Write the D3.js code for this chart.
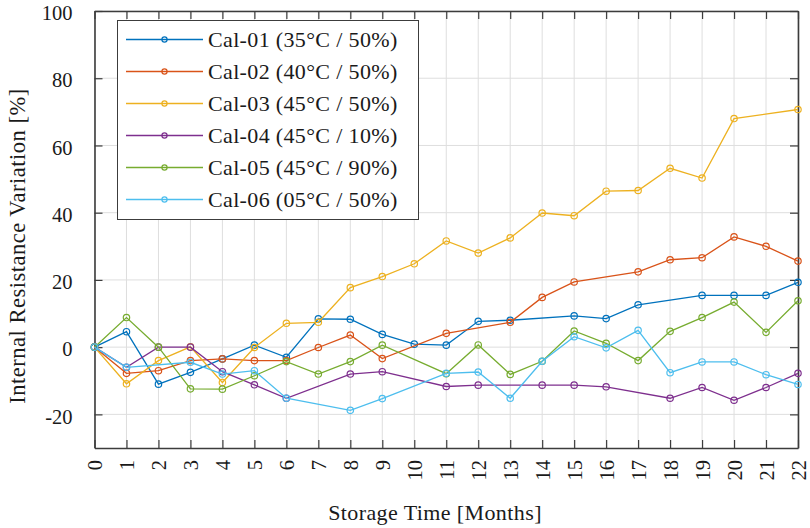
<!DOCTYPE html>
<html>
<head>
<meta charset="utf-8">
<script src="https://cdn.jsdelivr.net/npm/d3@7"></script>
<style>
  body { margin: 0; background: #fff; }
  svg { display: block; }
  text { font-family: "Liberation Serif", "Times New Roman", serif; fill: #1a1a1a; }
</style>
</head>
<body>
<svg id="chart" width="810" height="528"></svg>
<script>
// Storage time axis (months) and value axis ticks
const months = [0, 1, 2, 3, 4, 5, 6, 7, 8, 9, 10, 11, 12, 13, 14, 15, 16, 17, 18, 19, 20, 21, 22];
const yTicks = [-20, 0, 20, 40, 60, 80, 100];

// Internal resistance variation [%] per month; null = no measurement that month
const cal01 = [0, 4.6, -11.0, -7.5, -3.5, 0.6, -3.0, 8.4, 8.3, 3.8, 0.9, 0.6, 7.7, 8.0, null, 9.3, 8.5, 12.6, null, 15.4, 15.4, 15.4, 19.3];
const cal02 = [0, -7.8, -7.0, -4.0, -3.5, -4.0, -4.0, -0.1, 3.6, -3.4, null, 4.1, null, 7.4, 14.8, 19.4, null, 22.4, 26.0, 26.6, 32.8, 30.0, 25.6];
const cal03 = [0, -10.9, -4.0, 0.1, -10.5, -0.1, 7.1, 7.4, 17.7, 21.0, 24.8, 31.6, 28.0, 32.5, 39.9, 39.1, 46.4, 46.6, 53.2, 50.3, 68.0, null, 70.7];
const cal04 = [0, -6.0, 0, 0, -7.3, -11.2, -15.2, null, -8.0, -7.3, null, -11.7, -11.3, null, -11.3, -11.3, -11.8, null, -15.2, -12.0, -15.8, -12.0, -7.8];
const cal05 = [0, 8.8, 0, -12.4, -12.5, -8.5, -4.3, -8.0, -4.3, 0.6, null, -7.9, 0.65, -8.1, -4.2, 4.8, 1.15, -4.0, 4.7, 8.8, 13.4, 4.4, 13.8];
const cal06 = [0, -6.0, null, -4.5, -8.0, -7.0, -15.2, null, -18.8, -15.3, null, -7.8, -7.4, -15.2, -4.2, 3.1, -0.2, 5.0, -7.6, -4.4, -4.4, -8.2, -11.1];

const seriesNames = ["Cal-01 (35°C / 50%)", "Cal-02 (40°C / 50%)", "Cal-03 (45°C / 50%)",
                     "Cal-04 (45°C / 10%)", "Cal-05 (45°C / 90%)", "Cal-06 (05°C / 50%)"];
const seriesValues = [cal01, cal02, cal03, cal04, cal05, cal06];
const seriesColors = ["#0072BD", "#D95319", "#EDB120", "#7E2F8E", "#77AC30", "#4DBEEE"];

const svg = d3.select("#chart");
const plotLeft = 94.5, plotRight = 798, plotTop = 11, plotBottom = 448;

const x = d3.scaleLinear().domain([0, 22]).range([plotLeft, plotRight]);
const y = d3.scaleLinear().domain([-30, 100]).range([plotBottom, plotTop]);

// Grid
const grid = svg.append("g").attr("stroke", "#dedede").attr("stroke-width", 1);
grid.selectAll("line.gx").data(months).join("line")
  .attr("x1", d => x(d)).attr("x2", d => x(d))
  .attr("y1", y(-30)).attr("y2", y(100));
grid.selectAll("line.gy").data(yTicks).join("line")
  .attr("x1", x(0)).attr("x2", x(22))
  .attr("y1", d => y(d)).attr("y2", d => y(d));

// Box axes with inward ticks
function styleAxis(g) {
  g.select(".domain").attr("stroke", "#3c3c3c").attr("stroke-width", 1.6);
  g.selectAll(".tick line").attr("stroke", "#3c3c3c").attr("stroke-width", 1.2);
  g.selectAll(".tick text").attr("fill", "#1a1a1a").style("font-size", "20.5px")
    .style("font-family", "Liberation Serif, serif");
}

svg.append("g").attr("transform", `translate(0,${plotBottom})`)
  .call(d3.axisBottom(x).tickValues(months).tickSizeInner(-8).tickSizeOuter(0).tickPadding(0))
  .call(styleAxis)
  .call(g => g.selectAll(".tick text")
    .attr("transform", "rotate(-90)")
    .attr("text-anchor", "end")
    .attr("x", -12).attr("y", 0).attr("dy", "0.35em"));

svg.append("g").attr("transform", `translate(0,${plotTop})`)
  .call(d3.axisTop(x).tickValues(months).tickSizeInner(-8).tickSizeOuter(0).tickFormat(""))
  .call(styleAxis);

svg.append("g").attr("transform", `translate(${plotLeft},0)`)
  .call(d3.axisLeft(y).tickValues(yTicks).tickFormat(d => String(d))
    .tickSizeInner(-8).tickSizeOuter(0).tickPadding(22))
  .call(styleAxis)
  .call(g => g.selectAll(".tick text").attr("dy", "0.42em"));

svg.append("g").attr("transform", `translate(${plotRight},0)`)
  .call(d3.axisRight(y).tickValues(yTicks).tickSizeInner(-8).tickSizeOuter(0).tickFormat(""))
  .call(styleAxis);

// Series lines and open-circle markers
const line = d3.line().x(d => x(d.m)).y(d => y(d.v));
seriesValues.forEach((vals, i) => {
  const pts = months.map((m, j) => ({ m: m, v: vals[j] })).filter(d => d.v !== null);
  const g = svg.append("g");
  g.append("path").datum(pts)
    .attr("d", line).attr("fill", "none")
    .attr("stroke", seriesColors[i]).attr("stroke-width", 1.3);
  g.selectAll("circle").data(pts).join("circle")
    .attr("cx", d => x(d.m)).attr("cy", d => y(d.v)).attr("r", 3.2)
    .attr("fill", "none").attr("stroke", seriesColors[i]).attr("stroke-width", 1.2);
});

// Legend
const lg = svg.append("g");
lg.append("rect").attr("x", 117.5).attr("y", 20.5).attr("width", 301).attr("height", 199)
  .attr("fill", "#fff").attr("stroke", "#3c3c3c").attr("stroke-width", 1);
seriesNames.forEach((name, i) => {
  const ry = 39.5 + i * 32;
  lg.append("line").attr("x1", 126).attr("x2", 203).attr("y1", ry).attr("y2", ry)
    .attr("stroke", seriesColors[i]).attr("stroke-width", 1.3);
  lg.append("circle").attr("cx", 164.5).attr("cy", ry).attr("r", 2.6)
    .attr("fill", "none").attr("stroke", seriesColors[i]).attr("stroke-width", 1.2);
  lg.append("text").attr("x", 208).attr("y", ry).attr("dy", "0.36em")
    .style("font-size", "22px").style("letter-spacing", "0.35px").text(name);
});

// Axis titles
svg.append("text")
  .attr("transform", `translate(25,246) rotate(-90)`)
  .attr("text-anchor", "middle").style("font-size", "22.5px").style("letter-spacing", "0.5px")
  .text("Internal Resistance Variation [%]");

svg.append("text")
  .attr("x", 435).attr("y", 520)
  .attr("text-anchor", "middle").style("font-size", "22px").style("letter-spacing", "0.4px")
  .text("Storage Time [Months]");
</script>
</body>
</html>
